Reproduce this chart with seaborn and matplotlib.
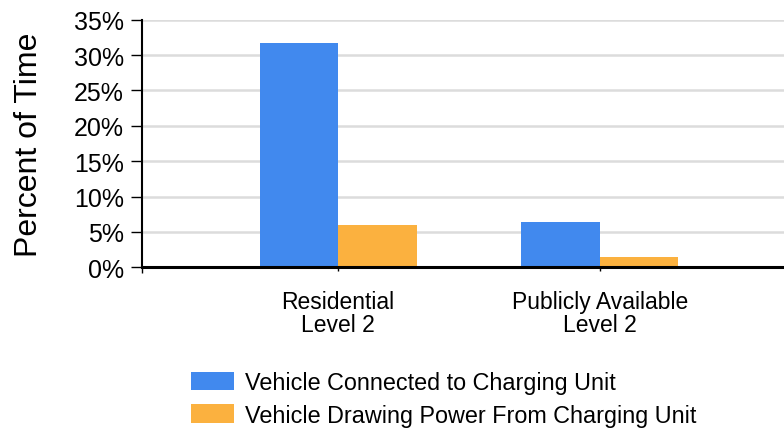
import matplotlib
matplotlib.use('Agg')
import matplotlib.pyplot as plt
import seaborn as sns
import pandas as pd
from matplotlib.ticker import FixedLocator, FuncFormatter

categories = ["Residential\nLevel 2", "Publicly Available\nLevel 2"]
series_names = ["Vehicle Connected to Charging Unit",
                "Vehicle Drawing Power From Charging Unit"]
connected = [31.7, 6.4]
drawing = [6.0, 1.4]
y_ticks = [0, 5, 10, 15, 20, 25, 30, 35]
colors = ["#4189EE", "#FBB13F"]

df = pd.DataFrame({
    "category": categories * 2,
    "series": [series_names[0]] * 2 + [series_names[1]] * 2,
    "value": connected + drawing,
})

sns.set_theme(style="white")
plt.rcParams['font.family'] = ['Liberation Sans', 'DejaVu Sans']
plt.rcParams['text.color'] = 'black'

W, H = 784, 431
fig = plt.figure(figsize=(W / 100, H / 100), dpi=100)
ax_left, ax_right, ax_top, ax_bottom = 142, 784, 20.7, 268.3
ax = fig.add_axes([ax_left / W, 1 - ax_bottom / H,
                   (ax_right - ax_left) / W, (ax_bottom - ax_top) / H])

sns.barplot(data=df, x="category", y="value", hue="series",
            hue_order=series_names, order=categories,
            palette=colors, width=0.6, saturation=1, linewidth=0,
            ax=ax)

handles, labels = ax.get_legend_handles_labels()
if ax.get_legend() is not None:
    ax.get_legend().remove()

ax.set_xlim(-0.75, 1.705)
ax.set_ylim(0, 35)
ax.yaxis.set_major_locator(FixedLocator(y_ticks))
ax.yaxis.set_major_formatter(FuncFormatter(lambda v, p: f"{v:.0f}%"))
ax.set_axisbelow(True)
ax.yaxis.grid(True, color="#dcdcdc", linewidth=1.8)
ax.xaxis.grid(False)

for s in ["top", "right"]:
    ax.spines[s].set_visible(False)
ax.spines["left"].set_color("black")
ax.spines["left"].set_linewidth(1.5)
ax.spines["bottom"].set_color("black")
ax.spines["bottom"].set_linewidth(2.2)

ax.tick_params(axis="y", which="major", direction="out", length=8, width=1,
               color="black", labelsize=18, pad=5, left=True)
ax.tick_params(axis="x", which="major", direction="out", length=3, width=1,
               color="black", labelsize=16.5, pad=13, bottom=True)
ax.xaxis.set_minor_locator(FixedLocator([-0.75]))
ax.tick_params(axis="x", which="minor", direction="out", length=4, width=1,
               color="black", bottom=True)
for lbl in ax.get_xticklabels():
    lbl.set_linespacing(1.0)

ax.set_xlabel("")
ax.set_ylabel("Percent of Time", fontsize=23, color="black")
ax.yaxis.set_label_coords(-0.152, 0.5)
for lbl in ax.get_yticklabels() + ax.get_xticklabels():
    lbl.set_color("black")

leg = fig.legend(handles, labels, loc="upper left",
                 bbox_to_anchor=(191 / W, 1 - 372 / H),
                 frameon=False, fontsize=16.8, borderpad=0, borderaxespad=0,
                 handlelength=1.85, handleheight=0.85, handletextpad=0.45,
                 labelspacing=0.42)
for t in leg.get_texts():
    t.set_color("black")

fig.savefig("out.png", dpi=100)
